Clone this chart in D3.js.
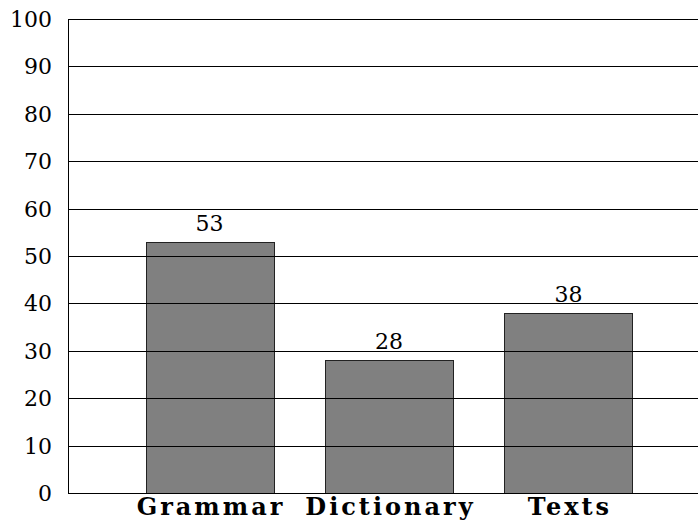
<!DOCTYPE html>
<html><head><meta charset="utf-8">
<script src="https://cdn.jsdelivr.net/npm/d3@7"></script>
<style>body{margin:0;background:#fff}</style>
</head><body>
<script>
const categories = ["Grammar", "Dictionary", "Texts"];
const values = [53, 28, 38];
const yTicks = [0, 10, 20, 30, 40, 50, 60, 70, 80, 90, 100];

const W = 698, H = 525;
const svg = d3.select("body").append("svg").attr("width", W).attr("height", H);
const mLeft = 68, mTop = 19, mBottom = 493;
const x = d3.scaleBand().domain(categories).range([mLeft, 710])
  .paddingInner(0.287).paddingOuter(0.432);
const y = d3.scaleLinear().domain([0, 100]).range([mBottom, mTop]);
const font = "'DejaVu Serif', serif";

// bars
svg.selectAll("rect.bar").data(values).join("rect")
  .attr("x", (d, i) => Math.round(x(categories[i])) + 0.5)
  .attr("y", d => Math.round(y(d)) + 0.5)
  .attr("width", Math.round(x.bandwidth()))
  .attr("height", d => Math.round(y(0)) - Math.round(y(d)))
  .attr("fill", "#808080").attr("stroke", "#222").attr("stroke-width", 1);

// grid lines
svg.selectAll("line.grid").data(yTicks).join("line")
  .attr("x1", mLeft).attr("x2", W)
  .attr("y1", d => Math.round(y(d)) + 0.5).attr("y2", d => Math.round(y(d)) + 0.5)
  .attr("stroke", "#000").attr("stroke-width", 1);
svg.append("line").attr("x1", mLeft + 0.5).attr("x2", mLeft + 0.5)
  .attr("y1", mTop).attr("y2", mBottom + 1).attr("stroke", "#000");

// y tick labels
svg.selectAll("text.yt").data(yTicks).join("text")
  .attr("x", 52).attr("y", d => y(d) + 8)
  .attr("text-anchor", "end")
  .attr("font-family", font).attr("font-size", 22)
  .text(d => d);

// value labels
svg.selectAll("text.val").data(values).join("text")
  .attr("x", (d, i) => x(categories[i]) + x.bandwidth() / 2)
  .attr("y", d => y(d) - 11)
  .attr("text-anchor", "middle")
  .attr("font-family", font).attr("font-size", 22)
  .text(d => d);

// category labels
svg.selectAll("text.cat").data(categories).join("text")
  .attr("x", d => x(d) + x.bandwidth() / 2 + 1.5)
  .attr("y", 515)
  .attr("text-anchor", "middle")
  .attr("font-family", font).attr("font-size", 24).attr("font-weight", "bold")
  .attr("letter-spacing", 3)
  .text(d => d);
</script>
</body></html>
